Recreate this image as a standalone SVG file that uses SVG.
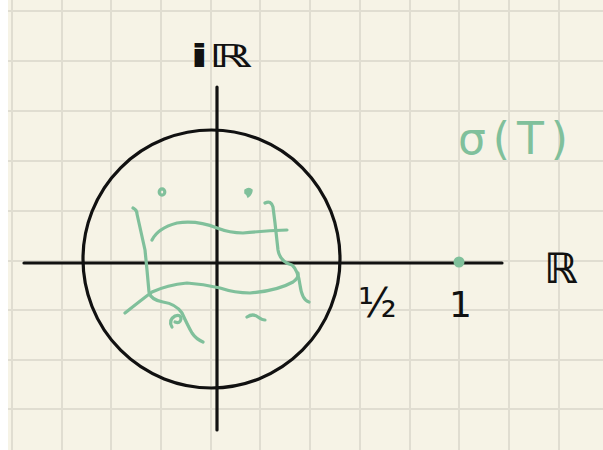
<svg xmlns="http://www.w3.org/2000/svg" width="603" height="450" viewBox="0 0 603 450">
  <defs>
    <style>
      .grid line { stroke: #e0ddd1; stroke-width: 2; }
      .ink { stroke: #111; stroke-width: 3.2; fill: none; stroke-linecap: round; }
      .g { stroke: #80c09b; stroke-width: 3.2; fill: none; stroke-linecap: round; stroke-linejoin: round; }
      .lbl { font-family: "DejaVu Sans", "Liberation Sans", sans-serif; fill: #111; }
      .glbl { font-family: "DejaVu Sans", "Liberation Sans", sans-serif; fill: #80c09b; }
    </style>
  </defs>
  <rect x="0" y="0" width="603" height="450" fill="#f6f3e6"/>
  <rect x="0" y="0" width="8" height="450" fill="#ffffff"/>
  <g id="grid" class="grid">
    <line x1="12" y1="0" x2="12" y2="450"/>
    <line x1="62" y1="0" x2="62" y2="450"/>
    <line x1="111" y1="0" x2="111" y2="450"/>
    <line x1="161" y1="0" x2="161" y2="450"/>
    <line x1="211" y1="0" x2="211" y2="450"/>
    <line x1="260" y1="0" x2="260" y2="450"/>
    <line x1="310" y1="0" x2="310" y2="450"/>
    <line x1="360" y1="0" x2="360" y2="450"/>
    <line x1="410" y1="0" x2="410" y2="450"/>
    <line x1="459" y1="0" x2="459" y2="450"/>
    <line x1="509" y1="0" x2="509" y2="450"/>
    <line x1="559" y1="0" x2="559" y2="450"/>
    <line x1="8" y1="11" x2="603" y2="11"/>
    <line x1="8" y1="61" x2="603" y2="61"/>
    <line x1="8" y1="111" x2="603" y2="111"/>
    <line x1="8" y1="161" x2="603" y2="161"/>
    <line x1="8" y1="211" x2="603" y2="211"/>
    <line x1="8" y1="261" x2="603" y2="261"/>
    <line x1="8" y1="310" x2="603" y2="310"/>
    <line x1="8" y1="360" x2="603" y2="360"/>
    <line x1="8" y1="409" x2="603" y2="409"/>
  </g>
  <g id="connectors">
    <line id="real-axis" class="ink" x1="24" y1="263" x2="502" y2="263"/>
    <line id="imag-axis" class="ink" x1="217" y1="87" x2="217" y2="430"/>
  </g>
  <g id="circle">
    <ellipse class="ink" cx="211.5" cy="259" rx="128.5" ry="129"/>
  </g>
  <g id="spectrum">
    <ellipse cx="162" cy="192" rx="2.8" ry="3.2" class="g" stroke-width="2.6"/>
    <path d="M245,190 q4,-3 7,0 q0,4 -4,7 q-1,-3 -3,-4 z" fill="#80c09b" stroke="#80c09b" stroke-width="1.5"/>
    <path class="g" d="M133,208 q4,2 4,6 L145,250 L147,270 L149,292 Q151,300 163,302 Q176,304 182,313 Q188,326 192,333 Q196,339 203,342"/>
    <path class="g" d="M152,240 Q158,228 177,223 Q197,220 217,228 Q230,233 243,233 Q263,231 287,230"/>
    <path class="g" d="M265,203 Q271,200 273,207 L275,223 L278,250 Q280,262 292,265 Q298,270 300,285 Q302,300 309,302"/>
    <path class="g" d="M125,313 Q140,301 152,292 Q167,285 187,283 Q203,284 220,288 Q235,293 250,293 Q277,291 293,282 Q299,278 298,273"/>
    <path class="g" d="M172,327 Q168,320 175,316 Q181,314 181,319 Q180,324 175,322"/>
    <path class="g" d="M247,317 Q253,313 258,317 Q262,320 265,320"/>
  </g>
  <g id="point-1">
    <circle cx="459" cy="262" r="5.5" fill="#80c09b"/>
  </g>
  <g id="labels">
    <text class="lbl" x="190" y="67" font-size="32" font-weight="bold" textLength="62" lengthAdjust="spacingAndGlyphs">iℝ</text>
    <text class="lbl" x="544" y="283" font-size="42" font-weight="bold">ℝ</text>
    <text class="lbl" x="358" y="317" font-size="40">½</text>
    <text class="lbl" x="449" y="317" font-size="36">1</text>
    <text class="glbl" x="458" y="154" font-size="44" textLength="110" lengthAdjust="spacing">σ(T)</text>
  </g>
</svg>
